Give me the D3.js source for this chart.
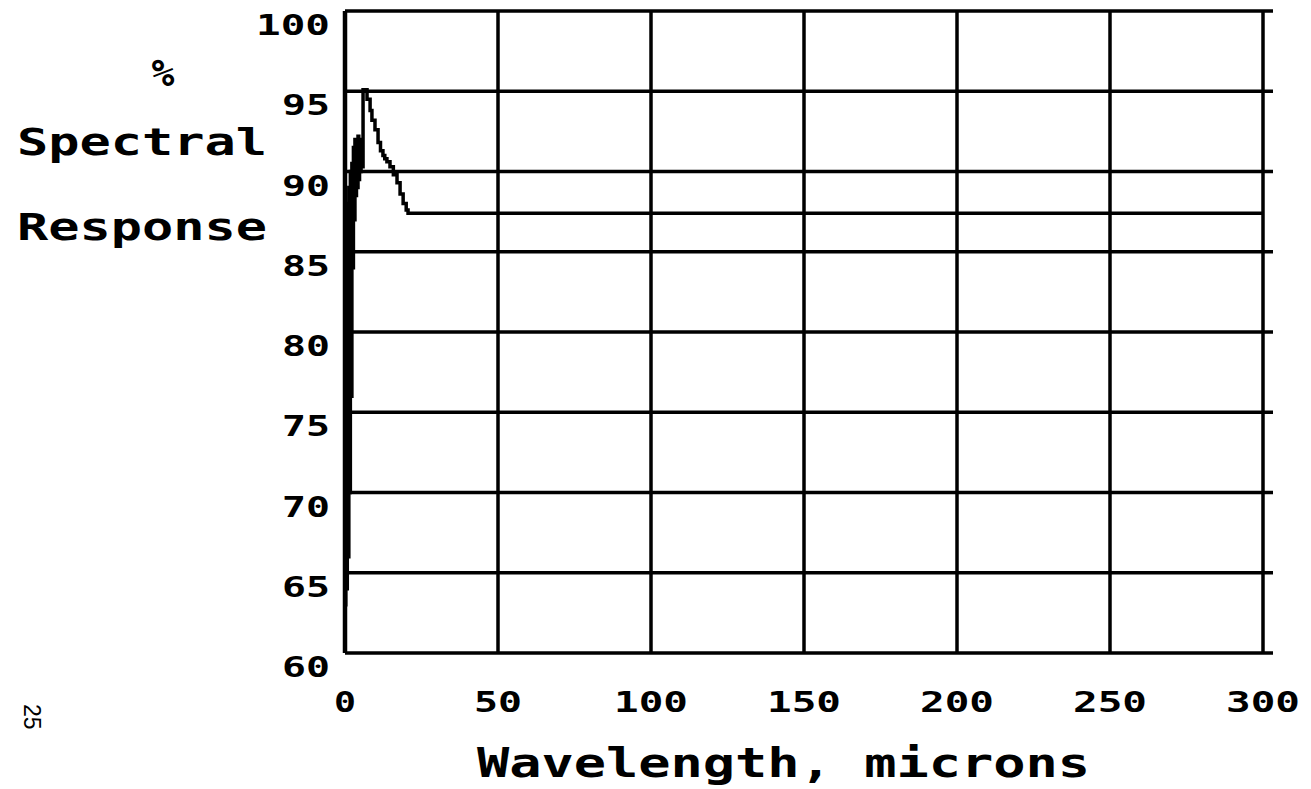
<!DOCTYPE html>
<html>
<head>
<meta charset="utf-8">
<script src="https://cdn.jsdelivr.net/npm/d3@7"></script>
<style>
  body { margin: 0; background: #fff; }
  svg { display: block; }
  .plot-text { font-family: "DejaVu Sans Mono", monospace; font-weight: bold; fill: #000; }
</style>
</head>
<body>
<svg id="chart" width="1311" height="789"></svg>
<script>
'use strict';

// wavelength (microns) and % spectral response
var wavelength = [0, 0.25, 0.5, 0.75, 1.0, 1.25, 1.5, 1.75, 2.0, 2.25, 2.5, 2.75, 3.0, 3.25,
  3.5, 3.75, 4.0, 4.25, 4.5, 4.75, 5.0, 5.25, 5.5, 5.9, 7.2, 8.2, 8.8, 9.8, 10.8, 11.6,
  12.4, 13.0, 13.7, 14.7, 15.8, 17.0, 18.0, 19.0, 20.0, 20.6, 300];
var response = [63, 86, 64, 88, 66, 89, 70, 90, 76, 90.5, 84, 91.5, 87, 92, 88.5, 92, 89,
  92.2, 89.5, 92, 90, 91.8, 90.3, 95.1, 94.5, 93.8, 93.2, 92.6, 91.8, 91.3, 91.0, 90.8,
  90.6, 90.3, 89.8, 89.3, 88.6, 88.0, 87.6, 87.4, 87.4];

var xTicks = [0, 50, 100, 150, 200, 250, 300];
var yTicks = [60, 65, 70, 75, 80, 85, 90, 95, 100];

var svg = d3.select('#chart'),
    box = { left: 345, right: 1263, top: 11, bottom: 653 },
    x = d3.scaleLinear().domain([0, 300]).range([box.left, box.right]),
    y = d3.scaleLinear().domain([60, 100]).range([box.bottom, box.top]),
    digitStep = 26;

// horizontal grid (runs a bit past the right edge)
svg.append('g').selectAll('line')
  .data(yTicks)
  .enter().append('line')
  .attr('x1', box.left).attr('x2', box.right + 10)
  .attr('y1', function (d) { return y(d); })
  .attr('y2', function (d) { return y(d); })
  .attr('stroke', '#000').attr('stroke-width', 3.5);

// vertical grid
svg.append('g').selectAll('line')
  .data(xTicks)
  .enter().append('line')
  .attr('x1', function (d) { return x(d); })
  .attr('x2', function (d) { return x(d); })
  .attr('y1', box.top).attr('y2', box.bottom)
  .attr('stroke', '#000')
  .attr('stroke-width', function (d) { return d === 0 ? 4.5 : 3.5; });

// response curve, stepped like a plotter trace
var line = d3.line()
  .x(function (d) { return x(d[0]); })
  .y(function (d) { return y(d[1]); })
  .curve(d3.curveStepAfter);

svg.append('path')
  .datum(d3.zip(wavelength, response))
  .attr('d', line)
  .attr('fill', 'none')
  .attr('stroke', '#000')
  .attr('stroke-width', 3.5);

// tick labels
svg.append('g').selectAll('text')
  .data(yTicks)
  .enter().append('text')
  .attr('class', 'plot-text')
  .attr('x', 330)
  .attr('y', function (d) { return y(d) + 24; })
  .attr('text-anchor', 'end')
  .attr('font-size', 29)
  .attr('textLength', function (d) { return String(d).length * digitStep - 4; })
  .attr('lengthAdjust', 'spacingAndGlyphs')
  .text(function (d) { return d; });

svg.append('g').selectAll('text')
  .data(xTicks)
  .enter().append('text')
  .attr('class', 'plot-text')
  .attr('x', function (d) { return x(d); })
  .attr('y', 712)
  .attr('text-anchor', 'middle')
  .attr('font-size', 29)
  .attr('textLength', function (d) { return String(d).length * digitStep - 4; })
  .attr('lengthAdjust', 'spacingAndGlyphs')
  .text(function (d) { return d; });

// axis titles
svg.append('text').attr('class', 'plot-text')
  .attr('x', 163).attr('y', 86).attr('text-anchor', 'middle')
  .attr('font-size', 38)
  .text('%');

[['Spectral', 155], ['Response', 240]].forEach(function (t) {
  svg.append('text').attr('class', 'plot-text')
    .attr('x', 17).attr('y', t[1])
    .attr('font-size', 38)
    .attr('textLength', 250)
    .attr('lengthAdjust', 'spacingAndGlyphs')
    .text(t[0]);
});

svg.append('text').attr('class', 'plot-text')
  .attr('x', 477).attr('y', 777)
  .attr('font-size', 40)
  .attr('textLength', 613)
  .attr('lengthAdjust', 'spacingAndGlyphs')
  .text('Wavelength, microns');

// page number, printed sideways in the margin
svg.append('text')
  .attr('transform', 'translate(24,704) rotate(90)')
  .attr('font-family', '"Liberation Sans", sans-serif')
  .attr('font-size', 23)
  .text('25');
</script>
</body>
</html>
